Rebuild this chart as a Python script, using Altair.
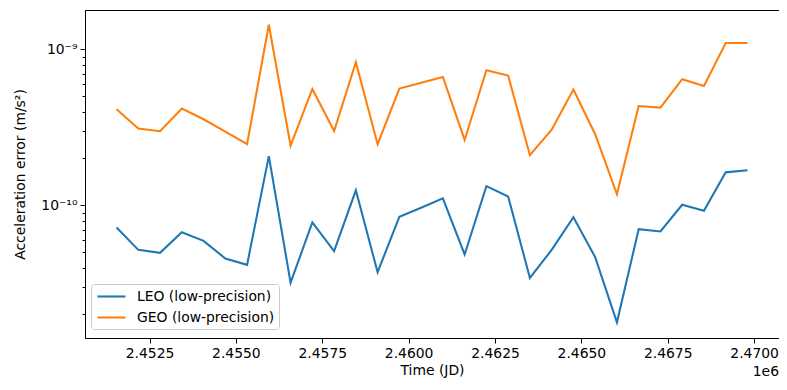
import altair as alt
import pandas as pd

JD = [2451545.0, 2452174.8, 2452804.5, 2453434.3, 2454064.0, 2454693.8,
      2455323.6, 2455953.3, 2456583.1, 2457212.8, 2457842.6, 2458472.4,
      2459102.1, 2459731.9, 2460361.6, 2460991.4, 2461621.2, 2462250.9,
      2462880.7, 2463510.4, 2464140.2, 2464770.0, 2465399.7, 2466029.5,
      2466659.2, 2467289.0, 2467918.8, 2468548.5, 2469178.3, 2469808.0]

LEO = [7.22e-11, 5.19e-11, 4.97e-11, 6.74e-11, 5.93e-11, 4.57e-11,
       4.16e-11, 2.07e-10, 3.20e-11, 7.78e-11, 5.09e-11, 1.25e-10,
       3.73e-11, 8.46e-11, 9.67e-11, 1.11e-10, 4.85e-11, 1.33e-10,
       1.14e-10, 3.43e-11, 5.19e-11, 8.41e-11, 4.66e-11, 1.78e-11,
       7.04e-11, 6.81e-11, 1.01e-10, 9.25e-11, 1.63e-10, 1.68e-10]

GEO = [4.14e-10, 3.11e-10, 2.99e-10, 4.18e-10, 3.57e-10, 2.97e-10,
       2.47e-10, 1.44e-9, 2.42e-10, 5.58e-10, 3.00e-10, 8.29e-10,
       2.47e-10, 5.62e-10, 6.11e-10, 6.67e-10, 2.63e-10, 7.36e-10,
       6.81e-10, 2.10e-10, 3.06e-10, 5.54e-10, 2.86e-10, 1.18e-10,
       4.34e-10, 4.24e-10, 6.45e-10, 5.84e-10, 1.10e-9, 1.10e-9]

SERIES = ["LEO (low-precision)", "GEO (low-precision)"]
COLORS = ["#1f77b4", "#ff7f0e"]

XTICKS = [2452500, 2455000, 2457500, 2460000, 2462500, 2465000, 2467500, 2470000]
YTICKS = [2e-11, 3e-11, 4e-11, 5e-11, 6e-11, 7e-11, 8e-11, 9e-11,
          1e-10, 2e-10, 3e-10, 4e-10, 5e-10, 6e-10, 7e-10, 8e-10, 9e-10, 1e-9]

rows = []
for name, vals in zip(SERIES, [LEO, GEO]):
    for t, v in zip(JD, vals):
        rows.append({"jd": t, "err": v, "orbit": name})
df = pd.DataFrame(rows)

FONT = "DejaVu Sans"
FS = 13.9

major_test = "abs(log(datum.value)/LN10 - round(log(datum.value)/LN10)) < 0.001"

lines = alt.Chart(df).mark_line(strokeWidth=2.08, clip=True).encode(
    x=alt.X("jd:Q",
            scale=alt.Scale(domain=[2450632, 2470721], nice=False, zero=False),
            axis=alt.Axis(values=XTICKS, labelExpr="format(datum.value/1e6,'.4f')",
                          title="Time (JD)", grid=False, tickSize=5, labelPadding=3,
                          titlePadding=4, labelFlush=False, labelOverlap=False)),
    y=alt.Y("err:Q",
            scale=alt.Scale(type="log", domain=[1.413e-11, 1.791e-9], nice=False),
            axis=alt.Axis(values=YTICKS,
                          labelExpr="datum.value == 1e-9 ? '10⁻⁹' : (datum.value == 1e-10 ? '10⁻¹⁰' : '')",
                          title="Acceleration error (m/s²)", grid=False,
                          tickSize={"condition": {"test": major_test, "value": 5}, "value": 3},
                          labelPadding=3, titlePadding=13, labelFlush=False, labelOverlap=False)),
    color=alt.Color("orbit:N", sort=SERIES,
                    scale=alt.Scale(domain=SERIES, range=COLORS),
                    legend=alt.Legend(title=None, orient="none", legendX=6, legendY=274,
                                      strokeColor="#cccccc", fillColor="white",
                                      cornerRadius=3, padding=4,
                                      symbolType="M-2,0H2", symbolSize=196,
                                      symbolOffset=8,
                                      symbolStrokeWidth=2.08, labelOffset=17,
                                      rowPadding=5, labelFont=FONT, labelFontSize=FS,
                                      labelColor="black")),
)

offset = alt.Chart(pd.DataFrame({"t": ["1e6"]})).mark_text(
    align="right", baseline="middle", font=FONT, fontSize=FS, color="black"
).encode(x=alt.value(694), y=alt.value(362), text="t:N")

chart = alt.layer(lines, offset).properties(
    width=694, height=328, autosize="none",
    padding={"left": 77, "top": 2, "right": 0, "bottom": 44},
).configure_view(stroke="black", strokeWidth=1).configure_axis(
    domainColor="black", tickColor="black", labelColor="black", titleColor="black",
    labelFont=FONT, titleFont=FONT, labelFontSize=FS, titleFontSize=FS,
    titleFontWeight="normal", tickWidth=1, domainWidth=1,
)

chart.save("out.html", embed_options={"renderer": "svg", "actions": False})
